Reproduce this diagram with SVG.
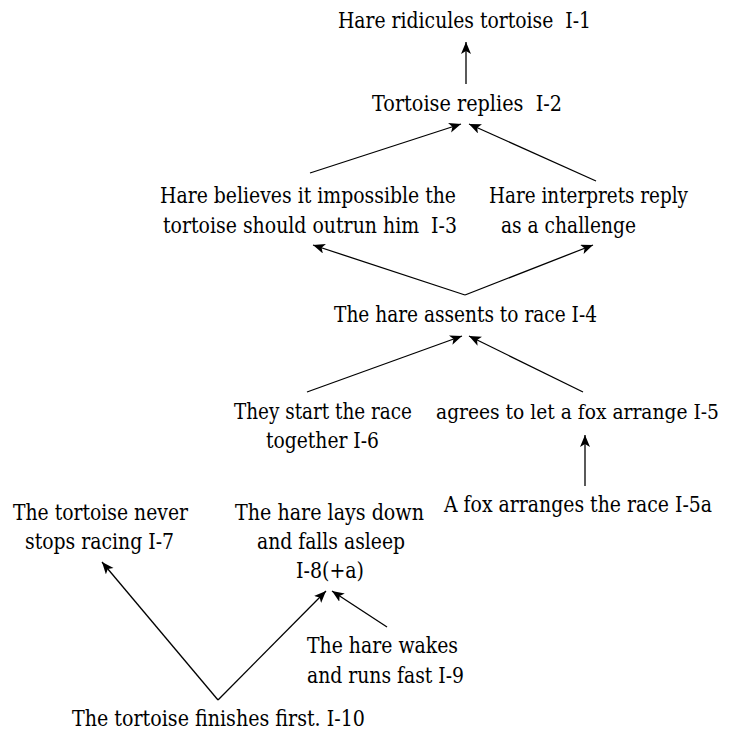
<svg xmlns="http://www.w3.org/2000/svg" width="749" height="732" viewBox="0 0 749 732">
<style>
text { font-family: "DejaVu Serif", serif; font-size: 21.5px; fill: #000; white-space: pre; }
text.s { font-size: 20.5px; }
.c { stroke: #000; stroke-width: 1.3; fill: none; marker-end: url(#ah); }
</style>
<defs>
<marker id="ah" markerUnits="userSpaceOnUse" markerWidth="14" markerHeight="12" refX="12" refY="5" orient="auto">
<path d="M0,0 L12,5 L0,10 L3,5 z" fill="#000"/>
</marker>
</defs>
<rect width="749" height="732" fill="#fff"/>
<g id="connectors">
<line class="c" x1="466" y1="84" x2="466" y2="42"/>
<line class="c" x1="310" y1="173" x2="461" y2="124"/>
<line class="c" x1="596" y1="181" x2="469" y2="124"/>
<line class="c" x1="465" y1="295" x2="313" y2="245"/>
<line class="c" x1="465" y1="295" x2="593" y2="245"/>
<line class="c" x1="307" y1="392" x2="462" y2="336"/>
<line class="c" x1="583" y1="392" x2="469" y2="336"/>
<line class="c" x1="585" y1="486" x2="585" y2="435"/>
<line class="c" x1="218" y1="700" x2="102" y2="562"/>
<line class="c" x1="218" y1="700" x2="326" y2="591"/>
<line class="c" x1="387" y1="627" x2="332" y2="591"/>
</g>
<g id="n1"><text x="338" y="28" textLength="253" lengthAdjust="spacingAndGlyphs">Hare ridicules tortoise  I-1</text></g>
<g id="n2"><text x="372" y="111" textLength="190" lengthAdjust="spacingAndGlyphs">Tortoise replies  I-2</text></g>
<g id="n3"><text x="160" y="203" textLength="296" lengthAdjust="spacingAndGlyphs">Hare believes it impossible the</text><text x="163" y="233" textLength="294" lengthAdjust="spacingAndGlyphs">tortoise should outrun him  I-3</text></g>
<g id="n3b"><text x="489" y="203" textLength="199" lengthAdjust="spacingAndGlyphs">Hare interprets reply</text><text x="501" y="233" textLength="135" lengthAdjust="spacingAndGlyphs">as a challenge</text></g>
<g id="n4"><text x="334" y="322" textLength="263" lengthAdjust="spacingAndGlyphs">The hare assents to race I-4</text></g>
<g id="n6"><text x="234" y="419" textLength="178" lengthAdjust="spacingAndGlyphs">They start the race</text><text x="266" y="448" textLength="113" lengthAdjust="spacingAndGlyphs">together I-6</text></g>
<g id="n5"><text class="s" x="436" y="419" textLength="283" lengthAdjust="spacingAndGlyphs">agrees to let a fox arrange I-5</text></g>
<g id="n5a"><text x="444" y="512" textLength="268" lengthAdjust="spacingAndGlyphs">A fox arranges the race I-5a</text></g>
<g id="n7"><text x="13" y="520" textLength="175" lengthAdjust="spacingAndGlyphs">The tortoise never</text><text x="25" y="549" textLength="149" lengthAdjust="spacingAndGlyphs">stops racing I-7</text></g>
<g id="n8"><text x="235" y="520" textLength="189" lengthAdjust="spacingAndGlyphs">The hare lays down</text><text x="257" y="549" textLength="148" lengthAdjust="spacingAndGlyphs">and falls asleep</text><text x="296" y="578" textLength="68" lengthAdjust="spacingAndGlyphs">I-8(+a)</text></g>
<g id="n9"><text x="307" y="653" textLength="151" lengthAdjust="spacingAndGlyphs">The hare wakes</text><text x="307" y="683" textLength="157" lengthAdjust="spacingAndGlyphs">and runs fast I-9</text></g>
<g id="n10"><text x="72" y="726" textLength="293" lengthAdjust="spacingAndGlyphs">The tortoise finishes first. I-10</text></g>
</svg>
